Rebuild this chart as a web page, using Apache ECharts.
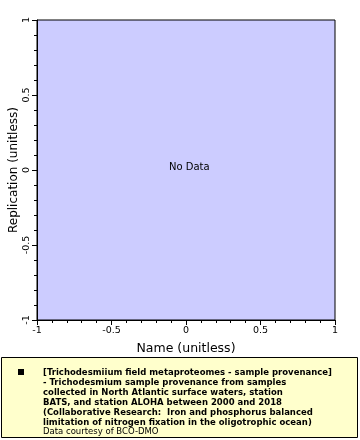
<!DOCTYPE html>
<html><head><meta charset="utf-8">
<script src="https://cdn.jsdelivr.net/npm/echarts@6/dist/echarts.min.js"></script>
<style>html,body{margin:0;padding:0;background:#fff}#c{width:360px;height:440px}</style>
</head><body><div id="c"></div>
<script>
const xTicks = [-1, -0.5, 0, 0.5, 1];
const yTicks = [-1, -0.5, 0, 0.5, 1];
const seriesData = [];
const xName = 'Name (unitless)';
const yName = 'Replication (unitless)';
const legendLines = [
  '[Trichodesmiium field metaproteomes - sample provenance]',
  '- Trichodesmium sample provenance from samples',
  'collected in North Atlantic surface waters, station',
  'BATS, and station ALOHA between 2000 and 2018',
  '(Collaborative Research:  Iron and phosphorus balanced',
  'limitation of nitrogen fixation in the oligotrophic ocean)'
];
const credit = 'Data courtesy of BCO-DMO';
const F = 'DejaVu Sans';
const chart = echarts.init(document.getElementById('c'), null, {renderer: 'canvas'});
const axisCommon = {
  type: 'value', min: xTicks[0], max: xTicks[xTicks.length-1], interval: 0.5,
  axisLine: {show: true, onZero: false, lineStyle: {color: '#000', width: 1}},
  axisTick: {show: true, inside: false, length: 5, lineStyle: {color: '#000'}},
  minorTick: {show: true, splitNumber: 5, length: 3, lineStyle: {color: '#000'}},
  splitLine: {show: false},
  nameLocation: 'middle',
  nameMoveOverlap: false
};
chart.setOption({
  animation: false,
  grid: {left: 37, top: 20, width: 298, height: 300, containLabel: false, outerBoundsMode: 'none', show: true, backgroundColor: '#ccccff', borderColor: '#000', borderWidth: 1},
  xAxis: Object.assign({}, axisCommon, {
    name: xName, nameGap: 22,
    nameTextStyle: {fontFamily: F, fontSize: 12.5, color: '#000'},
    axisLabel: {fontFamily: F, fontSize: 9.5, color: '#000', margin: 6, formatter: v => String(v)}
  }),
  yAxis: Object.assign({}, axisCommon, {
    min: yTicks[0], max: yTicks[yTicks.length-1],
    name: yName, nameGap: 17,
    nameTextStyle: {fontFamily: F, fontSize: 12, color: '#000'},
    axisLabel: {fontFamily: F, fontSize: 9.5, color: '#000', margin: 5, rotate: 90, formatter: v => String(v)}
  }),
  series: [{type: 'scatter', data: seriesData}],
  graphic: [
    {type: 'text', left: 169, top: 162, style: {text: 'No Data', font: '10px "DejaVu Sans"', fill: '#000'}},
    {type: 'rect', shape: {x: 1.5, y: 357.5, width: 356, height: 80}, style: {fill: '#ffffcc', stroke: '#000', lineWidth: 1}},
    {type: 'rect', shape: {x: 18, y: 369, width: 6, height: 6}, style: {fill: '#000'}},
    {type: 'text', x: 43, y: 367.5, style: {text: legendLines.join('\n'), font: 'bold 8.5px "DejaVu Sans"', lineHeight: 10, fill: '#000'}},
    {type: 'text', x: 43, y: 427.5, style: {text: credit, font: '8.5px "DejaVu Sans"', fill: '#000'}}
  ]
});
</script></body></html>
